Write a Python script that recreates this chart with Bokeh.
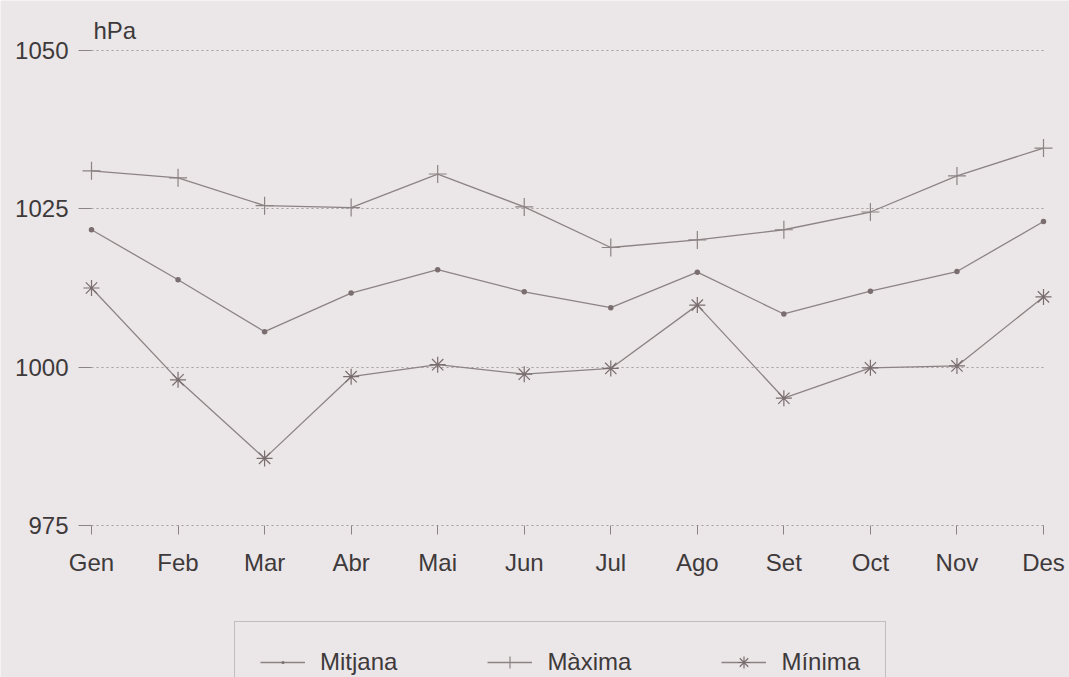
from bokeh.plotting import figure
from bokeh.models import FixedTicker, Legend, LegendItem, Label
from bokeh.embed import file_html
from bokeh.resources import INLINE

months = ["Gen", "Feb", "Mar", "Abr", "Mai", "Jun", "Jul", "Ago", "Set", "Oct", "Nov", "Des"]
maxima = [1031.0, 1029.9, 1025.5, 1025.2, 1030.5, 1025.3, 1018.9, 1020.1, 1021.7, 1024.5, 1030.2, 1034.6]
mitjana = [1021.7, 1013.8, 1005.6, 1011.7, 1015.4, 1011.9, 1009.4, 1015.0, 1008.4, 1012.0, 1015.1, 1023.0]
minima = [1012.5, 998.0, 985.6, 998.5, 1000.4, 998.9, 999.8, 1009.8, 995.1, 999.9, 1000.2, 1011.1]
y_ticks = [975, 1000, 1025, 1050]
unit_label = "hPa"
series_names = ["Mitjana", "Màxima", "Mínima"]

BG = "#ebe6e7"
TXT = "#3e3a3b"
LINE = "#8c8384"
DARK = "#7a6e70"
GRID = "#a49c9d"
FONT = "Liberation Sans"
xs = list(range(len(months)))
n = len(months)

# The frame covers the whole canvas; both axes are pinned at the first month / lowest tick,
# so the labels, the unit text and the legend are all drawn inside the frame.
p = figure(width=1069, height=677, output_backend="svg", toolbar_location=None,
           x_range=(-1.0515, n - 1 + 0.3004), y_range=(951.0, 1057.9),
           min_border_left=0, min_border_right=0, min_border_top=0, min_border_bottom=0)
p.background_fill_color = BG
p.border_fill_color = BG
p.outline_line_color = None
p.xgrid.grid_line_color = None
p.ygrid.grid_line_color = GRID
p.ygrid.grid_line_dash = "2 3"
p.ygrid.grid_line_width = 1
try:
    p.ygrid.cross_bounds = (0, n - 1)
except AttributeError:
    p.ygrid.grid_line_color = None
    p.multi_line([[0, n - 1]] * len(y_ticks), [[t, t] for t in y_ticks],
                 line_color=GRID, line_dash="2 3", line_width=1)

p.yaxis.ticker = FixedTicker(ticks=y_ticks)
p.yaxis.fixed_location = 0
p.xaxis.ticker = FixedTicker(ticks=xs)
p.xaxis.fixed_location = y_ticks[0]
p.xaxis.major_label_overrides = {i: m for i, m in enumerate(months)}
for ax in (p.xaxis[0], p.yaxis[0]):
    ax.axis_line_color = None
    ax.minor_tick_line_color = None
    ax.major_tick_line_color = LINE
    ax.major_tick_in = 0
    ax.major_label_text_font = FONT
    ax.major_label_text_font_size = "24px"
    ax.major_label_text_color = TXT
p.yaxis.major_tick_out = 13
p.yaxis.major_label_standoff = 10
p.xaxis.major_tick_out = 9
p.xaxis.major_label_standoff = 14

r_mit_l = p.line(xs, mitjana, line_color=LINE, line_width=1.3)
r_mit_m = p.scatter(xs, mitjana, marker="dot", size=22, fill_color=DARK, line_color=DARK)
r_max_l = p.line(xs, maxima, line_color=LINE, line_width=1.3)
r_max_m = p.scatter(xs, maxima, marker="cross", size=18, line_color=LINE, line_width=1.2)
r_min_l = p.line(xs, minima, line_color=LINE, line_width=1.3)
r_min_m = p.scatter(xs, minima, marker="asterisk", size=16, line_color=DARK, line_width=1.2)

p.add_layout(Label(x=0, y=y_ticks[-1], text=unit_label, x_offset=2, y_offset=20,
                   text_baseline="alphabetic", text_font=FONT, text_font_size="24px",
                   text_color=TXT))

legend = Legend(items=[
    LegendItem(label=series_names[0], renderers=[r_mit_l, r_mit_m]),
    LegendItem(label=series_names[1], renderers=[r_max_l, r_max_m]),
    LegendItem(label=series_names[2], renderers=[r_min_l, r_min_m]),
], orientation="horizontal", location=(234, -26), padding=25, spacing=90,
    glyph_width=45, glyph_height=30, label_standoff=15,
    label_text_font=FONT, label_text_font_size="24px", label_text_color=TXT,
    background_fill_color=BG, background_fill_alpha=1.0,
    border_line_color="#9a9293", border_line_width=1)
p.add_layout(legend, "center")

open("out.html", "w").write(file_html(p, INLINE))
